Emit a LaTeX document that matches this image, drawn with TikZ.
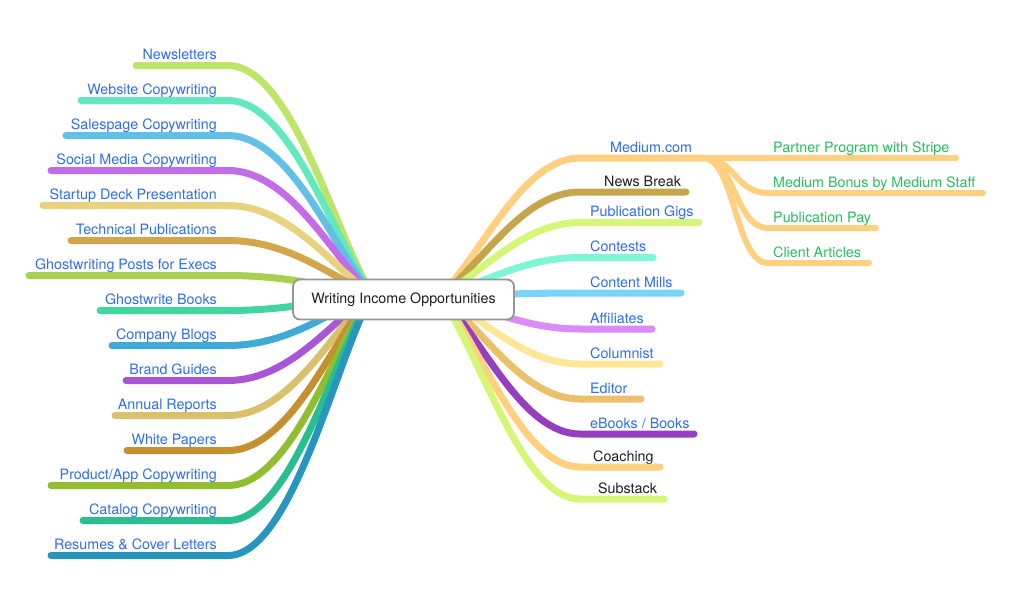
\documentclass[tikz,border=0pt]{standalone}
\usepackage{fontspec}
\setmainfont{TeX Gyre Heros}
\usetikzlibrary{calc}
\definecolor{txtblue}{RGB}{45,108,245}
\definecolor{txtgreen}{RGB}{40,190,90}
\definecolor{txtblack}{RGB}{30,30,30}
\definecolor{cA}{RGB}{190,228,105}
\definecolor{cB}{RGB}{100,232,190}
\definecolor{cC}{RGB}{98,192,230}
\definecolor{cD}{RGB}{195,108,232}
\definecolor{cE}{RGB}{232,210,125}
\definecolor{cF}{RGB}{212,166,76}
\definecolor{cG}{RGB}{168,208,80}
\definecolor{cH}{RGB}{64,214,160}
\definecolor{cI}{RGB}{64,170,214}
\definecolor{cJ}{RGB}{168,85,214}
\definecolor{cK}{RGB}{216,192,108}
\definecolor{cL}{RGB}{196,144,48}
\definecolor{cM}{RGB}{144,190,48}
\definecolor{cN}{RGB}{40,190,144}
\definecolor{cO}{RGB}{38,150,190}
\definecolor{rOrange}{RGB}{255,208,128}
\definecolor{rNews}{RGB}{196,166,76}
\definecolor{rLime}{RGB}{214,246,122}
\definecolor{rAqua}{RGB}{124,246,212}
\definecolor{rSky}{RGB}{122,212,250}
\definecolor{rPink}{RGB}{216,140,246}
\definecolor{rYellow}{RGB}{255,230,150}
\definecolor{rEditor}{RGB}{236,192,106}
\definecolor{rPurple}{RGB}{150,62,192}
\definecolor{boxgray}{RGB}{150,150,150}
\tikzset{
  branch/.style={line width=7pt, line cap=round},
  subbranch/.style={line width=6pt, line cap=round, draw=rOrange},
  lbl/.style={font=\fontsize{14.3}{17}\selectfont, text=txtblue, inner sep=0pt},
  centerbox/.style={draw=boxgray, line width=1.8pt, rounded corners=7pt, fill=white,
    minimum width=221pt, minimum height=40pt, text=txtblack,
    font=\fontsize{14.3}{17}\selectfont}
}
\newcommand\LeftBranch[5]{%
  \coordinate (#1-a) at (228,#2);
  \coordinate (#1-b) at (#3,#2);
  \node[lbl, anchor=base east] (#1) at (217,{#2-6}) {#5};
  \draw[branch, draw=#4] (L) .. controls ($(L)!0.25!(#1-a)$) and (292,#2) .. (#1-a) -- (#1-b);
}
\newcommand\RightBranch[7]{%
  \coordinate (#1-a) at (580,#2);
  \coordinate (#1-b) at (#3,#2);
  \node[lbl, text=#6, anchor=base west] (#1) at (#7,{#2-6}) {#5};
  \draw[branch, draw=#4] (R) .. controls ($(R)!0.3!(#1-a)$) and (522,#2) .. (#1-a) -- (#1-b);
}
\newcommand\SubBranch[4]{%
  \coordinate (#1-a) at (768,#2);
  \coordinate (#1-b) at (#3,#2);
  \node[lbl, text=txtgreen, anchor=base west] (#1) at (773,{#2-6}) {#4};
  \draw[subbranch] (medium-b) .. controls (735,158) and (735,#2) .. (#1-a) -- (#1-b);
}
\begin{document}
\begin{tikzpicture}[x=1pt, y=-1pt]
\useasboundingbox (0,0) rectangle (1024,595);
\coordinate (L) at (372,294);
\coordinate (R) at (440,296);
% left side
\LeftBranch{newsletters}{65.5}{136}{cA}{Newsletters}
\LeftBranch{website}{100.5}{81}{cB}{Website Copywriting}
\LeftBranch{salespage}{135.5}{66}{cC}{Salespage Copywriting}
\LeftBranch{social}{170.5}{51}{cD}{Social Media Copywriting}
\LeftBranch{startup}{205.5}{43}{cE}{Startup Deck Presentation}
\LeftBranch{technical}{240.5}{71}{cF}{Technical Publications}
\LeftBranch{ghostposts}{275.5}{29}{cG}{Ghostwriting Posts for Execs}
\LeftBranch{ghostbooks}{310.5}{100}{cH}{Ghostwrite Books}
\LeftBranch{blogs}{345.5}{112}{cI}{Company Blogs}
\LeftBranch{brand}{380.5}{126}{cJ}{Brand Guides}
\LeftBranch{annual}{415.5}{115}{cK}{Annual Reports}
\LeftBranch{white}{450.5}{127}{cL}{White Papers}
\LeftBranch{product}{485.5}{51}{cM}{Product/App Copywriting}
\LeftBranch{catalog}{520.5}{83}{cN}{Catalog Copywriting}
\LeftBranch{resumes}{555.5}{51}{cO}{Resumes \& Cover Letters}
% right side
\RightBranch{medium}{158}{703}{rOrange}{Medium.com}{txtblue}{610}
\RightBranch{newsbreak}{192}{686}{rNews}{News Break}{txtblack}{604}
\RightBranch{pubgigs}{222.5}{699}{rLime}{Publication Gigs}{txtblue}{590}
\RightBranch{contests}{257.5}{653}{rAqua}{Contests}{txtblue}{590}
\RightBranch{mills}{293}{681}{rSky}{Content Mills}{txtblue}{590}
\RightBranch{affiliates}{329}{652}{rPink}{Affiliates}{txtblue}{590}
\RightBranch{columnist}{364}{660}{rYellow}{Columnist}{txtblue}{590}
\RightBranch{editor}{399}{641}{rEditor}{Editor}{txtblue}{590}
\RightBranch{ebooks}{434}{694}{rPurple}{eBooks / Books}{txtblue}{590}
\RightBranch{coaching}{467}{660}{rOrange}{Coaching}{txtblack}{593}
\RightBranch{substack}{499}{664}{rLime}{Substack}{txtblack}{598}
% Medium children
\SubBranch{partner}{158}{956}{Partner Program with Stripe}
\SubBranch{bonus}{193}{983}{Medium Bonus by Medium Staff}
\SubBranch{pubpay}{228}{876}{Publication Pay}
\SubBranch{client}{263}{869}{Client Articles}
% center
\node[centerbox] (center) at (403.5,299.5) {Writing Income Opportunities};
\end{tikzpicture}
\end{document}
